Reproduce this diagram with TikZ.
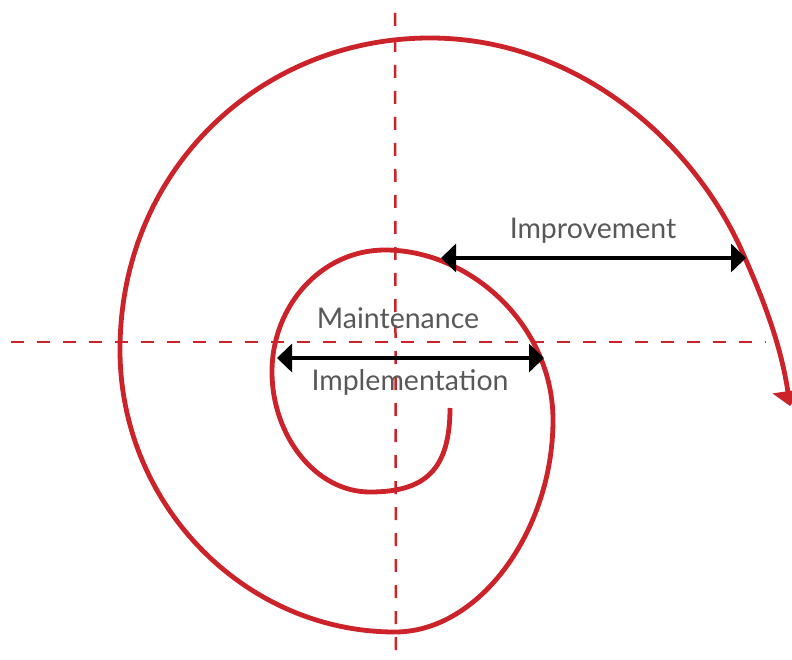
\documentclass[tikz,border=0pt]{standalone}
\usepackage{fontspec}
\setmainfont{Lato}
\usetikzlibrary{arrows.meta}
\definecolor{spiralred}{HTML}{CC2229}
\definecolor{labelgray}{HTML}{585858}
\tikzset{
  axisline/.style={draw=spiralred, line width=2.5pt, dash pattern=on 13pt off 13pt},
  spiralline/.style={draw=spiralred, line width=4.8pt, -{Triangle[length=15pt,width=30pt]}},
  dimarrow/.style={draw=black, line width=3.5pt, {Triangle[length=15pt,width=28pt]}-{Triangle[length=15pt,width=28pt]}, shorten <=-1pt, shorten >=-1pt},
  label/.style={text=labelgray, font=\fontsize{28.5}{31}\selectfont, inner sep=0pt}
}
\begin{document}
\begin{tikzpicture}[x=1pt,y=-1pt]
\useasboundingbox (0,0) rectangle (792,660);
% axes
\coordinate (vtop) at (395,13);
\coordinate (vbot) at (396,660);
\coordinate (hleft) at (11,342);
\coordinate (hright) at (766,342);
\draw[axisline] (vtop) -- (vbot);
\draw[axisline] (hleft) -- (hright);
% spiral
\coordinate (s0) at (450,408);
\coordinate (s1) at (370,492);
\coordinate (s2) at (272,372);
\coordinate (s3) at (385,250);
\coordinate (s4) at (553,420);
\coordinate (s5) at (395,632);
\coordinate (s6) at (120,350);
\coordinate (s7) at (430,38);
\coordinate (s8) at (745,258);
\coordinate (s9) at (790,406);
\draw[spiralline] (s0)
  .. controls (450,470) and (425,492) .. (s1)
  .. controls (315,492) and (272,435) .. (s2)
  .. controls (272,305) and (322,250) .. (s3)
  .. controls (470,250) and (553,325) .. (s4)
  .. controls (553,530) and (480,632) .. (s5)
  .. controls (245,632) and (120,505) .. (s6)
  .. controls (120,170) and (260,38) .. (s7)
  .. controls (575,38) and (695,140) .. (s8)
  .. controls (768,310) and (782,352) .. (s9);
% dimension arrows
\coordinate (ia) at (442,258);
\coordinate (ib) at (745,258);
\coordinate (ma) at (278,358);
\coordinate (mb) at (543,358);
\draw[dimarrow] (ia) -- (ib);
\draw[dimarrow] (ma) -- (mb);
% labels
\node[label] (improvement) at (593,231) {Improvement};
\node[label] (maintenance) at (398,318) {Maintenance};
\node[label] (implementation) at (410,382) {Implementation};
\end{tikzpicture}
\end{document}
